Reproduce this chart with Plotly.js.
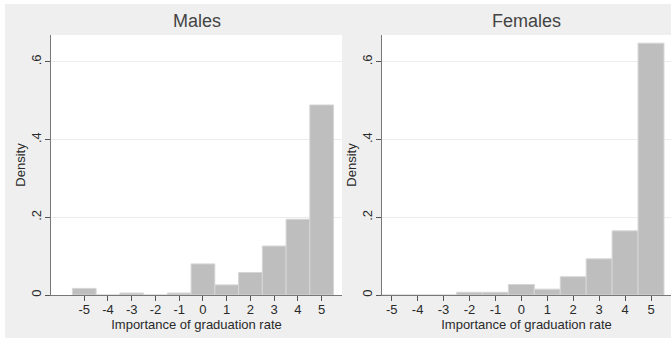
<!DOCTYPE html>
<html>
<head>
<meta charset="utf-8">
<script src="https://cdn.plot.ly/plotly-3.0.1.min.js"></script>
<style>
  html, body { margin: 0; padding: 0; background: #ffffff; }
  #chart { width: 671px; height: 340px; }
</style>
</head>
<body>
<div id="chart"></div>
<script>
// Importance of graduation rate, score bins
const scores = [-5, -4, -3, -2, -1, 0, 1, 2, 3, 4, 5];
const scoreLabels = ['-5', '-4', '-3', '-2', '-1', '0', '1', '2', '3', '4', '5'];

// Density per score bin
const malesDensity   = [0.017, 0, 0.005, 0, 0.005, 0.080, 0.026, 0.058, 0.126, 0.195, 0.489];
const femalesDensity = [0, 0, 0, 0.007, 0.007, 0.027, 0.015, 0.047, 0.093, 0.165, 0.648];

// Panel titles and axis labels
const panelTitles = ['Males', 'Females'];
const densityTicks = [0, 0.2, 0.4, 0.6];
const densityTickText = ['0', '.2', '.4', '.6'];
const xTitle = 'Importance of graduation rate';
const yTitle = 'Density';

const W = 671, H = 340;
const FONT = 'Liberation Sans, Arial, Helvetica, sans-serif';
const BG = '#efefef';

const barStyle = {
  type: 'bar',
  width: 1,
  marker: { color: '#bebebe', line: { color: '#d6d6d6', width: 1 } },
  hoverinfo: 'x+y',
  showlegend: false
};

const traces = [
  Object.assign({}, barStyle, { x: scores, y: malesDensity, xaxis: 'x', yaxis: 'y', name: panelTitles[0] }),
  Object.assign({}, barStyle, { x: scores, y: femalesDensity, xaxis: 'x2', yaxis: 'y2', name: panelTitles[1] })
];

function xAxis(domain, range) {
  return {
    domain: domain,
    range: range,
    tickmode: 'array',
    tickvals: scores,
    ticktext: scoreLabels,
    ticks: 'outside',
    ticklen: 5,
    tickcolor: '#555555',
    tickwidth: 1,
    ticklabelstandoff: -3,
    showline: true,
    linecolor: '#777777',
    linewidth: 1,
    showgrid: false,
    zeroline: false,
    tickfont: { family: FONT, size: 13, color: '#2a2a2a' },
    title: { text: xTitle, font: { family: FONT, size: 13, color: '#2a2a2a' }, standoff: 0 },
    fixedrange: true
  };
}

function yAxis(domain, anchor) {
  return {
    domain: domain,
    anchor: anchor,
    range: [0, 0.669],
    tickmode: 'array',
    tickvals: densityTicks,
    ticktext: densityTickText,
    tickangle: -90,
    ticks: 'outside',
    ticklen: 5,
    tickcolor: '#555555',
    tickwidth: 1,
    ticklabelstandoff: -1,
    showline: true,
    linecolor: '#777777',
    linewidth: 1,
    showgrid: true,
    gridcolor: '#ececec',
    gridwidth: 1,
    zeroline: false,
    tickfont: { family: FONT, size: 13, color: '#2a2a2a' },
    title: { text: yTitle, font: { family: FONT, size: 13, color: '#2a2a2a' }, standoff: 0 },
    fixedrange: true
  };
}

const yDom = [45 / H, 305 / H];
const x1Dom = [51 / W, 342 / W];
const x2Dom = [382 / W, 1];

const layout = {
  width: W,
  height: H,
  margin: { l: 0, r: 0, t: 0, b: 0, pad: 0 },
  paper_bgcolor: BG,
  plot_bgcolor: '#ffffff',
  bargap: 0,
  font: { family: FONT, size: 13, color: '#2a2a2a' },
  xaxis: Object.assign(xAxis(x1Dom, [-6.40, 5.855]), { anchor: 'y' }),
  yaxis: yAxis(yDom, 'x'),
  xaxis2: Object.assign(xAxis(x2Dom, [-5.374, 5.771]), { anchor: 'y2' }),
  yaxis2: yAxis(yDom, 'x2'),
  annotations: [
    { text: panelTitles[0], xref: 'paper', yref: 'paper',
      x: (x1Dom[0] + x1Dom[1]) / 2, y: (H - 21) / H, xanchor: 'center', yanchor: 'middle',
      showarrow: false, font: { family: FONT, size: 18, color: '#444444' } },
    { text: panelTitles[1], xref: 'paper', yref: 'paper',
      x: (x2Dom[0] + x2Dom[1]) / 2, y: (H - 21) / H, xanchor: 'center', yanchor: 'middle',
      showarrow: false, font: { family: FONT, size: 18, color: '#444444' } }
  ],
  shapes: [
    // thin white frame round the graph region
    { type: 'rect', xref: 'paper', yref: 'paper', x0: 0, x1: 5 / W, y0: 0, y1: 1,
      fillcolor: '#ffffff', line: { width: 0 }, layer: 'above' },
    { type: 'rect', xref: 'paper', yref: 'paper', x0: 0, x1: 1, y0: (H - 4) / H, y1: 1,
      fillcolor: '#ffffff', line: { width: 0 }, layer: 'above' },
    { type: 'rect', xref: 'paper', yref: 'paper', x0: 0, x1: 1, y0: 0, y1: 2 / H,
      fillcolor: '#ffffff', line: { width: 0 }, layer: 'above' }
  ]
};

Plotly.newPlot('chart', traces, layout, { displayModeBar: false, staticPlot: true });
</script>
</body>
</html>
